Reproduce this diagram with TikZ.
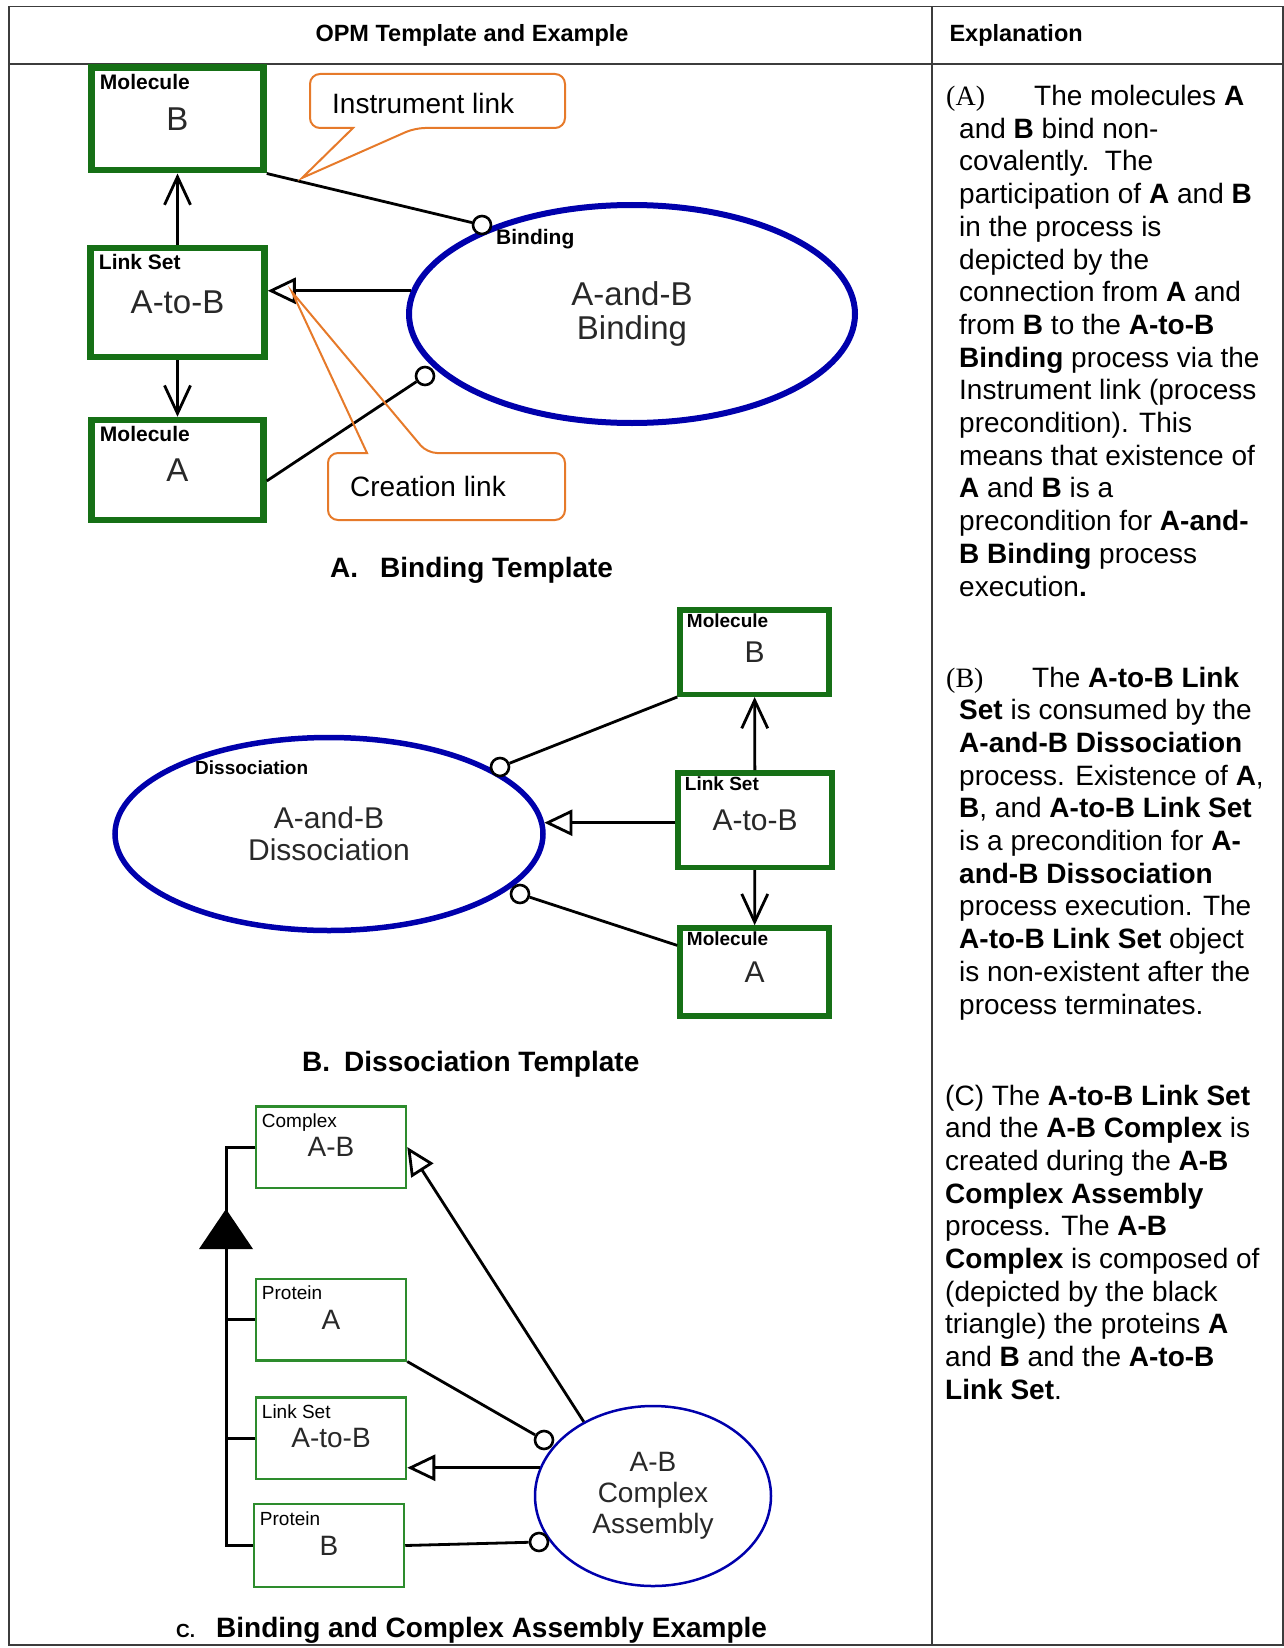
\documentclass[tikz,border=0pt]{standalone}
\usepackage{fontspec}
\setmainfont{Liberation Sans}
\newfontfamily\timesf{Liberation Serif}
\usetikzlibrary{arrows.meta,shapes.geometric}
\definecolor{objgreen}{RGB}{22,112,22}
\definecolor{objgreenlt}{RGB}{45,140,45}
\definecolor{procblue}{RGB}{0,0,172}
\definecolor{noteorange}{RGB}{230,122,42}
\definecolor{boxtext}{RGB}{40,40,40}
\definecolor{rulegray}{RGB}{60,60,60}
\newcommand\pxf[2]{\fontsize{#1}{#2}\selectfont}
\tikzset{
  tablerule/.style={draw=rulegray,line width=1.6pt},
  hdr/.style={font=\bfseries\pxf{23.5}{26}},
  body/.style={anchor=base west,inner sep=0pt,font=\pxf{28}{33}},
  figcap/.style={anchor=west,inner sep=0pt,font=\bfseries\pxf{28}{30}},
  objA/.style={draw=objgreen,line width=6.5pt,minimum width=172pt,text=boxtext,font=\pxf{33}{36}},
  objB/.style={draw=objgreen,line width=5.5pt,minimum width=149pt,text=boxtext,font=\pxf{30}{32}},
  objC/.style={draw=objgreenlt,line width=2.5pt,minimum width=150pt,minimum height=81.5pt,text=boxtext,font=\pxf{28}{30}},
  proc/.style={ellipse,draw=procblue,text=boxtext,align=center},
  tagA/.style={inner sep=0pt,text=black,font=\bfseries\pxf{21}{21}},
  tagB/.style={inner sep=0pt,text=black,font=\bfseries\pxf{19}{19}},
  tagC/.style={inner sep=0pt,text=black,font=\pxf{19}{19}},
  lblA/.style={tagA,anchor=north west,xshift=11.5pt,yshift=-9.5pt},
  lblB/.style={tagB,anchor=north west,xshift=9.5pt,yshift=-6.5pt},
  lblC/.style={tagC,anchor=north west,xshift=7pt,yshift=-8.5pt},
  instdot/.style={circle,draw=black,fill=white,line width=2.6pt,minimum size=18pt,inner sep=0pt},
  conn/.style={draw=black,line width=2.8pt},
  vee/.style={conn,-{Straight Barb[length=28pt,width=26pt]}},
  resarr/.style={conn,-{Triangle[length=28pt,width=26pt,fill=white]}},
  note/.style={draw=noteorange,line width=2pt},
  notetext/.style={anchor=west,inner sep=0pt,font=\pxf{28}{30}}
}
\begin{document}
\begin{tikzpicture}[x=1pt,y=-1pt]
  \useasboundingbox (0,0) rectangle (1284,1648);
  \draw[tablerule] (9,6.5) rectangle (1283,1645);
  \draw[tablerule] (9,64)--(1283,64);
  \draw[tablerule] (932,6.5)--(932,1645);
  \node[hdr] (hdrL) at (472,35) {OPM Template and Example};
  \node[hdr,anchor=west] (hdrR) at (946,35) {Explanation};

  % A. binding template
  \node[proc,line width=6pt,minimum width=446pt,minimum height=218pt,font=\pxf{33}{34}] (bindA) at (632,314) {A-and-B\\Binding};
  \node[tagA,anchor=west] (bindTag) at (496,239) {Binding};
  \node[objA,minimum height=102.5pt,label={[lblA]north west:Molecule}] (molB) at (177.5,119) {B};
  \node[objA,minimum width=174pt,minimum height=109pt,label={[lblA]north west:Link Set}] (linkA) at (177.5,302.5) {A-to-B};
  \node[objA,minimum height=100pt,label={[lblA]north west:Molecule}] (molA) at (177.5,470) {A};
  \node[instdot] (dotA1) at (482,225) {};
  \node[instdot] (dotA2) at (425,376) {};
  \draw[conn] (molB.south east)--(dotA1);
  \draw[conn] (molA.-7)--(dotA2);
  \draw[vee] (linkA)--(molB);
  \draw[vee] (linkA)--(molA);
  \draw[resarr] (bindA.174)--(linkA.east |- bindA.174);
  \node[figcap] (capA) at (330,570) {A.\hspace{22pt}Binding Template};

  % B. dissociation template
  \node[proc,line width=5.5pt,minimum width=428pt,minimum height=193pt,font=\pxf{30}{32}] (dissB) at (329,834) {A-and-B\\Dissociation};
  \node[tagB,anchor=west] (dissTag) at (195,768) {Dissociation};
  \node[objB,minimum height=84.5pt,label={[lblB]north west:Molecule}] (molB2) at (754.5,652) {B};
  \node[objB,minimum width=154pt,minimum height=94.5pt,label={[lblB]north west:Link Set}] (linkB) at (755,820) {A-to-B};
  \node[objB,minimum height=88pt,label={[lblB]north west:Molecule}] (molA2) at (754.5,972) {A};
  \node[instdot] (dotB1) at (500,767) {};
  \node[instdot] (dotB2) at (520,894) {};
  \draw[conn] (molB2.south west)--(dotB1);
  \draw[conn] (molA2.161)--(dotB2);
  \draw[vee] (linkB)--(molB2);
  \draw[vee] (linkB)--(molA2);
  \draw[resarr] (linkB.west |- dissB.3)--(dissB.3);
  \node[figcap] (capB) at (302,1064) {B.\hspace{14pt}Dissociation Template};

  % C. complex assembly example
  \node[proc,line width=2.5pt,minimum width=236pt,minimum height=180pt,font=\pxf{28}{31}] (asmC) at (653,1496) {A-B\\Complex\\Assembly};
  \node[objC,label={[lblC]north west:Complex}] (cplx) at (331,1147) {A-B};
  \node[objC,label={[lblC]north west:Protein}] (protA) at (331,1319.5) {A};
  \node[objC,label={[lblC]north west:Link Set}] (linkC) at (331,1438) {A-to-B};
  \node[objC,minimum height=83pt,label={[lblC]north west:Protein}] (protB) at (329,1545.5) {B};
  \node[instdot] (dotC1) at (544,1440) {};
  \node[instdot] (dotC2) at (539,1542) {};
  \coordinate (aggTip) at (226,1209);
  \draw[conn,line width=3pt] (cplx.west)--(cplx.west -| aggTip)--(aggTip |- protB.west)--(protB.west);
  \draw[conn,line width=3pt] (protA.west)--(protA.west -| aggTip);
  \draw[conn,line width=3pt] (linkC.west)--(linkC.west -| aggTip);
  \fill (aggTip)--++(-27,40)--++(54,0)--cycle;
  \draw[conn] (protA.south east)--(dotC1);
  \draw[conn] (protB.east)--(dotC2);
  \draw[resarr] (asmC.133)--(cplx.east);
  \draw[resarr] (asmC.166)--(linkC.east |- asmC.166);
  \node[figcap] (capC) at (176,1630) {{\pxf{19}{20}C.}\hspace{21pt}Binding and Complex Assembly Example};

  % callouts
  \draw[note] (565,101) [rounded corners=10pt]--(565,128)--(415,128) [sharp corners]--(302,178)--(353,128) [rounded corners=10pt]--(310,128)--(310,74)--(565,74)--cycle;
  \node[notetext] (instNote) at (332,103) {Instrument link};
  \draw[note] (565,486) [rounded corners=10pt]--(565,453)--(427,453) [sharp corners]--(292,292)--(367,453) [rounded corners=10pt]--(328,453)--(328,520)--(565,520)--cycle;
  \node[notetext] (creaNote) at (350,486) {Creation link};

  % explanation column
  \node[body] (txtA0) at (946,105.5) {\makebox[88pt][l]{\timesf (A)}The molecules \textbf{A}};
  \foreach \row [count=\i] in {{and \textbf{B} bind non-},{covalently.\ \ The},{participation of \textbf{A} and \textbf{B}},
    {in the process is},{depicted by the},{connection from \textbf{A} and},{from \textbf{B} to the \textbf{A-to-B}},
    {\textbf{Binding} process via the},{Instrument link (process},{precondition). This},{means that existence of},
    {\textbf{A} and \textbf{B} is a},{precondition for \textbf{A-and-}},{\textbf{B Binding} process},{execution\textbf{.}}}
    \node[body] (txtA\i) at (959,{105.5+32.7*\i}) {\row};
  \node[body] (txtB0) at (946,687) {\makebox[86pt][l]{\timesf (B)}The \textbf{A-to-B Link}};
  \foreach \row [count=\i] in {{\textbf{Set} is consumed by the},{\textbf{A-and-B Dissociation}},{process. Existence of \textbf{A},},
    {\textbf{B}, and \textbf{A-to-B Link Set}},{is a precondition for \textbf{A-}},{\textbf{and-B Dissociation}},
    {process execution. The},{\textbf{A-to-B Link Set} object},{is non-existent after the},{process terminates.}}
    \node[body] (txtB\i) at (959,{687+32.7*\i}) {\row};
  \foreach \row [count=\i from 0] in {{(C) The \textbf{A-to-B Link Set}},{and the \textbf{A-B Complex} is},{created during the \textbf{A-B}},
    {\textbf{Complex Assembly}},{process. The \textbf{A-B}},{\textbf{Complex} is composed of},{(depicted by the black},
    {triangle) the proteins \textbf{A}},{and \textbf{B} and the \textbf{A-to-B}},{\textbf{Link Set}.}}
    \node[body] (txtC\i) at (945,{1105+32.7*\i}) {\row};
\end{tikzpicture}
\end{document}
